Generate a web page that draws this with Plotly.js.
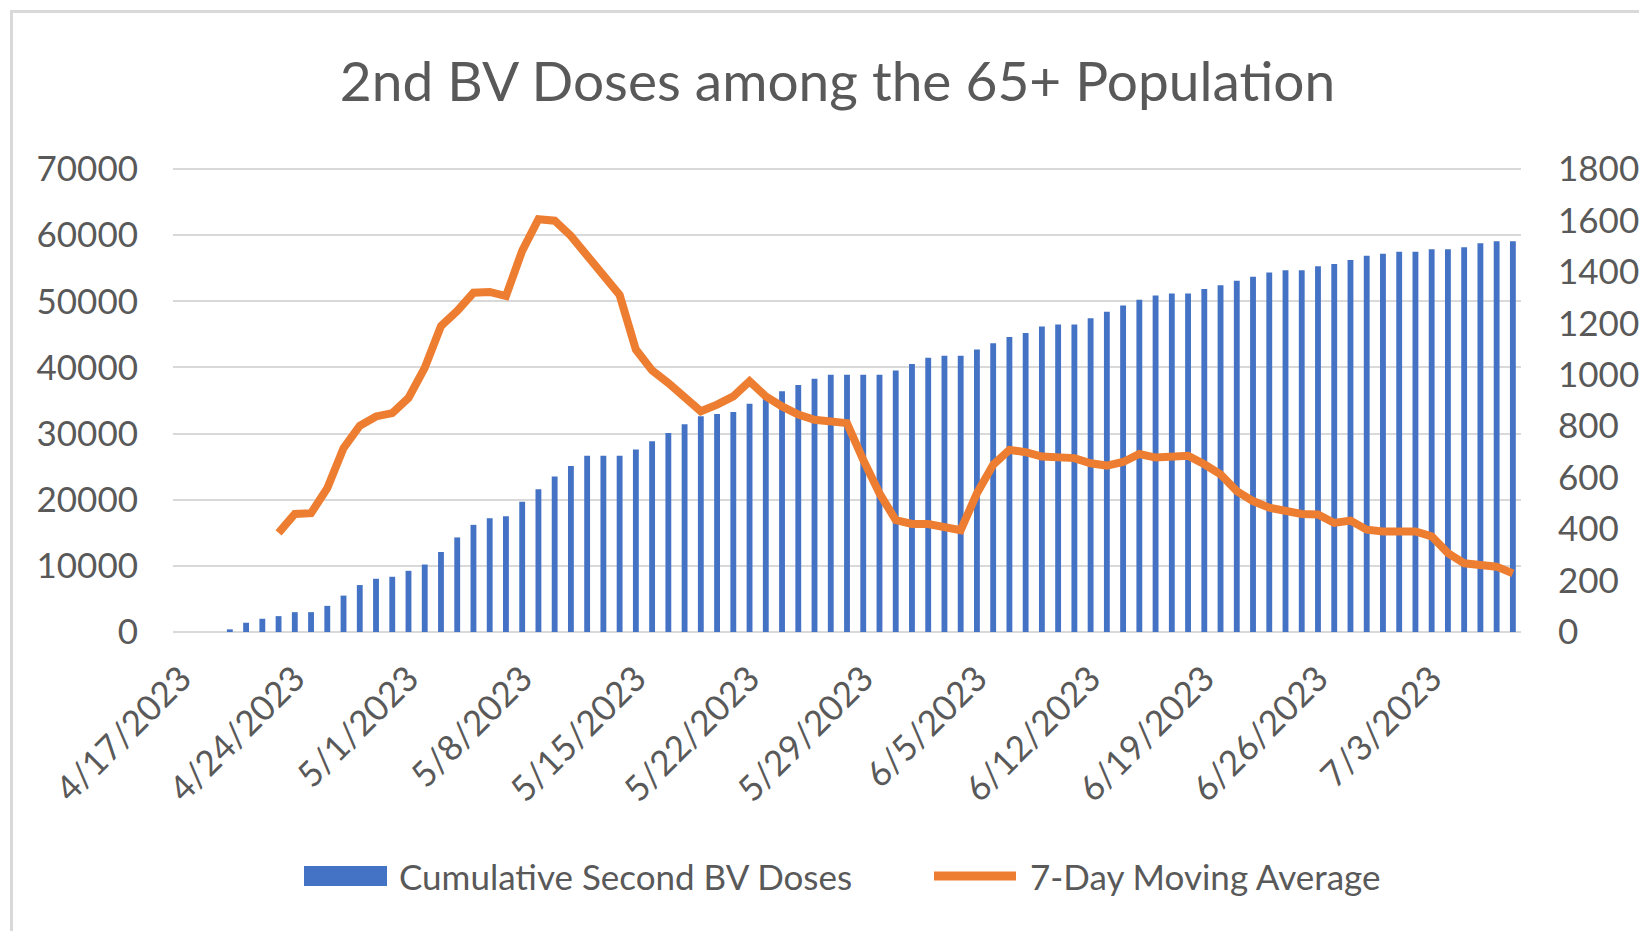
<!DOCTYPE html>
<html>
<head>
<meta charset="utf-8">
<script src="https://cdn.plot.ly/plotly-3.0.1.min.js"></script>
<style>
  html, body { margin: 0; padding: 0; background: #ffffff; overflow: hidden; }
  #chart { position: absolute; left: 0; top: 0; width: 1639px; height: 931px; }
  #frame { position: absolute; left: 10px; top: 10px; width: 2000px; height: 2000px;
           border: 3px solid #d9d9d9; pointer-events: none; box-sizing: border-box; }
</style>
</head>
<body>
<div id="chart"></div>
<div id="frame"></div>
<script>
// ---- data ----
const dates = [
  "4/17/2023","4/18/2023","4/19/2023","4/20/2023","4/21/2023","4/22/2023","4/23/2023",
  "4/24/2023","4/25/2023","4/26/2023","4/27/2023","4/28/2023","4/29/2023","4/30/2023",
  "5/1/2023","5/2/2023","5/3/2023","5/4/2023","5/5/2023","5/6/2023","5/7/2023",
  "5/8/2023","5/9/2023","5/10/2023","5/11/2023","5/12/2023","5/13/2023","5/14/2023",
  "5/15/2023","5/16/2023","5/17/2023","5/18/2023","5/19/2023","5/20/2023","5/21/2023",
  "5/22/2023","5/23/2023","5/24/2023","5/25/2023","5/26/2023","5/27/2023","5/28/2023",
  "5/29/2023","5/30/2023","5/31/2023","6/1/2023","6/2/2023","6/3/2023","6/4/2023",
  "6/5/2023","6/6/2023","6/7/2023","6/8/2023","6/9/2023","6/10/2023","6/11/2023",
  "6/12/2023","6/13/2023","6/14/2023","6/15/2023","6/16/2023","6/17/2023","6/18/2023",
  "6/19/2023","6/20/2023","6/21/2023","6/22/2023","6/23/2023","6/24/2023","6/25/2023",
  "6/26/2023","6/27/2023","6/28/2023","6/29/2023","6/30/2023","7/1/2023","7/2/2023",
  "7/3/2023","7/4/2023","7/5/2023","7/6/2023","7/7/2023","7/8/2023"
];

const cumulativeDoses = [
  0, 0, 0, 400, 1400, 2000, 2400,
  3000, 3000, 3950, 5500, 7100, 8050, 8350,
  9250, 10200, 12100, 14300, 16200, 17200, 17500,
  19700, 21600, 23500, 25100, 26650, 26650, 26650,
  27600, 28850, 30100, 31400, 32600, 32950, 33250,
  34500, 35400, 36400, 37350, 38300, 38900, 38900,
  38900, 38900, 39550, 40500, 41450, 41750, 41750,
  42700, 43650, 44600, 45200, 46200, 46500, 46500,
  47450, 48400, 49350, 50250, 50870, 51180, 51180,
  51840, 52440, 53100, 53700, 54370, 54680, 54680,
  55280, 55640, 56250, 56900, 57200, 57500, 57500,
  57870, 57870, 58180, 58780, 59090, 59090
];

const movingAverage = [
  null, null, null, null, null, null, 385,
  459, 462, 559, 715, 802, 838, 851,
  910, 1027, 1189, 1248, 1319, 1322, 1306,
  1482, 1605, 1599, 1540, 1462, 1378, 1310,
  1098, 1017, 968, 910, 858, 884, 916,
  975, 916, 877, 845, 825, 819, 812,
  669, 539, 435, 420, 420, 409, 396,
  539, 650, 708, 699, 682, 676, 676,
  656, 647, 661, 692, 678, 680, 685,
  652, 613, 548, 509, 483, 473, 459,
  457, 424, 433, 398, 391, 391, 391,
  372, 307, 267, 258, 254, 228
];

const tickLabels = [
  "4/17/2023","4/24/2023","5/1/2023","5/8/2023","5/15/2023","5/22/2023",
  "5/29/2023","6/5/2023","6/12/2023","6/19/2023","6/26/2023","7/3/2023"
];

const seriesNames = ["Cumulative Second BV Doses", "7-Day Moving Average"];
const chartTitle = "2nd BV Doses among the 65+ Population";

// ---- chart ----
const FONT = "Lato, 'Open Sans', sans-serif";
const GREY = "#595959";
const BLUE = "#4472c4";
const ORANGE = "#ed7d31";
const FS = 35;

const traces = [
  {
    type: "bar",
    name: seriesNames[0],
    x: dates,
    y: cumulativeDoses,
    marker: { color: BLUE },
    width: 0.36,
    hoverinfo: "x+y"
  },
  {
    type: "scatter",
    mode: "lines",
    name: seriesNames[1],
    x: dates,
    y: movingAverage,
    yaxis: "y2",
    line: { color: ORANGE, width: 8, shape: "linear" },
    connectgaps: false,
    hoverinfo: "x+y"
  }
];

const L = 173, R = 1521, T = 169, B = 632;
const W = R - L, H = B - T;
function px(x) { return (x - L) / W; }
function py(y) { return (B - y) / H; }

const layout = {
  width: 1639,
  height: 931,
  margin: { l: L, r: 1639 - R, t: T, b: 931 - B, pad: 0 },
  paper_bgcolor: "#ffffff",
  plot_bgcolor: "#ffffff",
  showlegend: false,
  font: { family: FONT, color: GREY, size: FS },
  title: {
    text: chartTitle,
    font: { family: FONT, size: 55, color: GREY },
    xref: "container",
    yref: "container",
    x: 0.511,
    xanchor: "center",
    y: 1 - 82 / 931,
    yanchor: "middle"
  },
  xaxis: {
    type: "category",
    tickmode: "array",
    tickvals: tickLabels,
    ticktext: tickLabels,
    tickangle: -45,
    ticks: "",
    showgrid: false,
    showline: false,
    zeroline: false,
    tickfont: { family: FONT, size: FS, color: GREY },
    ticklabelstandoff: 18,
    range: [-0.5, dates.length - 0.5]
  },
  yaxis: {
    range: [0, 70000],
    tick0: 0,
    dtick: 10000,
    showgrid: true,
    gridcolor: "#d9d9d9",
    gridwidth: 2,
    zeroline: true,
    zerolinecolor: "#d9d9d9",
    zerolinewidth: 2,
    showline: false,
    ticks: "",
    tickformat: "d",
    tickfont: { family: FONT, size: FS, color: GREY },
    ticklabelstandoff: 34
  },
  yaxis2: {
    overlaying: "y",
    side: "right",
    range: [0, 1800],
    tick0: 0,
    dtick: 200,
    showgrid: false,
    zeroline: false,
    showline: false,
    ticks: "",
    tickformat: "d",
    tickfont: { family: FONT, size: FS, color: GREY },
    ticklabelstandoff: 36
  },
  bargap: 0.64,
  shapes: [
    { type: "line", xref: "paper", yref: "paper",
      x0: 0, x1: 1, y0: 1, y1: 1, line: { color: "#d9d9d9", width: 2 }, layer: "below" },
    { type: "rect", xref: "paper", yref: "paper",
      x0: px(304), x1: px(387), y0: py(886), y1: py(866),
      fillcolor: BLUE, line: { width: 0 } },
    { type: "line", xref: "paper", yref: "paper",
      x0: px(934), x1: px(1016), y0: py(876), y1: py(876),
      line: { color: ORANGE, width: 9 } }
  ],
  annotations: [
    { xref: "paper", yref: "paper", x: px(397), y: py(876), xanchor: "left", yanchor: "middle",
      text: seriesNames[0], showarrow: false, font: { family: FONT, size: FS, color: GREY } },
    { xref: "paper", yref: "paper", x: px(1028), y: py(876), xanchor: "left", yanchor: "middle",
      text: seriesNames[1], showarrow: false, font: { family: FONT, size: FS, color: GREY } }
  ]
};

Plotly.newPlot("chart", traces, layout, { displayModeBar: false, staticPlot: true });
</script>
</body>
</html>
